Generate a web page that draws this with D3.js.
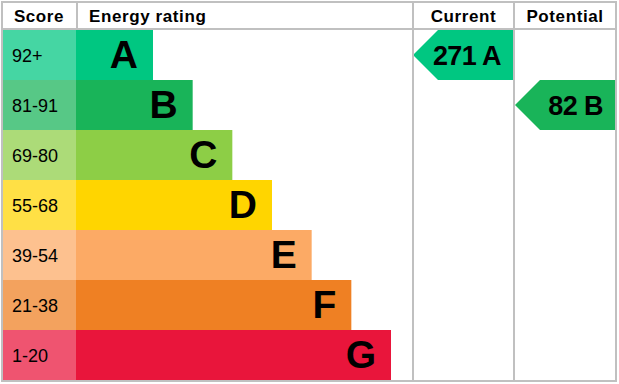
<!DOCTYPE html>
<html>
<head>
<meta charset="utf-8">
<script src="https://cdn.jsdelivr.net/npm/d3@7"></script>
<style>
  body { margin: 0; background: #fff; }
  svg { display: block; font-family: "Liberation Sans", Arial, sans-serif; }
</style>
</head>
<body>
<div id="chart"></div>
<script>
// EPC bands
let bands = ["A", "B", "C", "D", "E", "F", "G"];
let scores = ["92+", "81-91", "69-80", "55-68", "39-54", "21-38", "1-20"];
let colors = ["#00c781", "#19b459", "#8dce46", "#ffd500", "#fcaa65", "#ef8023", "#e9153b"];

let current = { value: 271, band: "A" };
let potential = { value: 82, band: "B" };

let width = 619,
    height = 384;

let gLeft = 2, gRight = 616, gTop = 2, headH = 28, gBottom = 381;
let scoreW = 74, curX = 413, potX = 514;

let y = d3.scaleBand()
    .domain(bands)
    .range([gTop + headH, gBottom - 1]);

// bar end grows with band index
let barEnd = d3.scaleLinear()
    .domain([0, bands.length - 1])
    .range([153, 391]);

let svg = d3.select("#chart").append("svg")
    .attr("width", width)
    .attr("height", height);

let rows = svg.selectAll(".row")
    .data(bands)
  .enter().append("g")
    .attr("class", "row");

rows.append("rect")
    .attr("x", gLeft)
    .attr("y", d => y(d))
    .attr("width", scoreW)
    .attr("height", y.bandwidth())
    .attr("fill", (d, i) => d3.interpolateRgb(colors[i], "#fff")(0.27));

rows.append("rect")
    .attr("x", gLeft + scoreW)
    .attr("y", d => y(d))
    .attr("width", (d, i) => barEnd(i) - gLeft - scoreW)
    .attr("height", y.bandwidth())
    .attr("fill", (d, i) => colors[i]);

rows.append("text")
    .attr("x", 12)
    .attr("y", d => y(d) + y.bandwidth() / 2 + 7)
    .attr("font-size", 18)
    .text((d, i) => scores[i]);

rows.append("text")
    .attr("x", (d, i) => barEnd(i) - 15)
    .attr("y", d => y(d) + y.bandwidth() / 2 + 13)
    .attr("text-anchor", "end")
    .attr("font-size", 39)
    .attr("font-weight", "bold")
    .text(d => d);

// arrows
function arrow(col, x0, x1) {
  let i = bands.indexOf(col.band);
  let y0 = y(col.band), h = y.bandwidth();
  let tip = 25;
  svg.append("path")
      .attr("d", "M" + x0 + "," + (y0 + h / 2) +
                 "L" + (x0 + tip) + "," + y0 +
                 "L" + x1 + "," + y0 +
                 "L" + x1 + "," + (y0 + h) +
                 "L" + (x0 + tip) + "," + (y0 + h) + "Z")
      .attr("fill", colors[i]);
  svg.append("text")
      .attr("x", x1 - 12)
      .attr("y", y0 + h / 2 + 10)
      .attr("text-anchor", "end")
      .attr("font-size", 27)
      .attr("font-weight", "bold")
      .attr("letter-spacing", -0.6)
      .text(col.value + " " + col.band);
}
arrow(current, curX, potX - 1);
arrow(potential, potX + 1, gRight - 1);

// grid
let grid = "#c0c0c0";
svg.append("rect")
    .attr("x", gLeft).attr("y", gTop)
    .attr("width", gRight - gLeft).attr("height", gBottom - gTop)
    .attr("fill", "none").attr("stroke", grid).attr("stroke-width", 2);
svg.append("line")
    .attr("x1", gLeft).attr("x2", gRight)
    .attr("y1", gTop + headH - 1).attr("y2", gTop + headH - 1)
    .attr("stroke", grid).attr("stroke-width", 2);
svg.append("line")
    .attr("x1", gLeft + scoreW + 1).attr("x2", gLeft + scoreW + 1)
    .attr("y1", gTop).attr("y2", gTop + headH)
    .attr("stroke", grid).attr("stroke-width", 2);
[curX, potX].forEach(x => {
  svg.append("line")
      .attr("x1", x).attr("x2", x)
      .attr("y1", gTop).attr("y2", gBottom)
      .attr("stroke", grid).attr("stroke-width", 2);
});

// header
let head = [
  { t: "Score", x: 39, a: "middle" },
  { t: "Energy rating", x: 89, a: "start" },
  { t: "Current", x: (curX + potX) / 2, a: "middle" },
  { t: "Potential", x: (potX + gRight) / 2, a: "middle" }
];
svg.selectAll(".head")
    .data(head)
  .enter().append("text")
    .attr("x", d => d.x)
    .attr("y", 22)
    .attr("text-anchor", d => d.a)
    .attr("font-size", 17)
    .attr("font-weight", "bold")
    .attr("letter-spacing", 0.6)
    .text(d => d.t);
</script>
</body>
</html>
